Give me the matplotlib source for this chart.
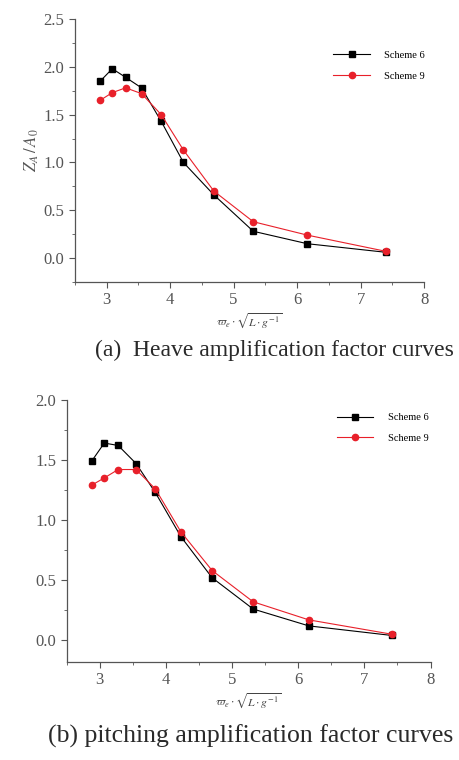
import matplotlib.pyplot as plt
from matplotlib.ticker import AutoMinorLocator

plt.rcParams['font.family'] = ['Liberation Serif', 'DejaVu Serif']
plt.rcParams['mathtext.fontset'] = 'stix'

# heave amplification factor
omega = [2.90, 3.09, 3.30, 3.55, 3.86, 4.21, 4.69, 5.31, 6.16, 7.40]
heave_s6 = [1.85, 1.98, 1.89, 1.78, 1.43, 1.00, 0.66, 0.28, 0.15, 0.06]
heave_s9 = [1.65, 1.73, 1.78, 1.72, 1.50, 1.13, 0.70, 0.38, 0.24, 0.07]

# pitching amplification factor
omega_p = [2.88, 3.07, 3.28, 3.55, 3.84, 4.23, 4.70, 5.32, 6.16, 7.42]
pitch_s6 = [1.49, 1.64, 1.62, 1.47, 1.23, 0.86, 0.52, 0.26, 0.12, 0.04]
pitch_s9 = [1.29, 1.35, 1.42, 1.42, 1.26, 0.90, 0.58, 0.32, 0.17, 0.05]

xlabel = r'$\varpi_e\cdot\sqrt{L\cdot g^{-1}}$'
red = '#e8202a'

fig = plt.figure(figsize=(4.59, 7.60), dpi=100)
ax1 = fig.add_axes([0.163, 0.629, 0.761, 0.346])
ax2 = fig.add_axes([0.145, 0.129, 0.793, 0.345])


def style(ax, ylim, yticks):
    ax.spines['top'].set_visible(False)
    ax.spines['right'].set_visible(False)
    for s in ('left', 'bottom'):
        ax.spines[s].set_color('#555555')
        ax.spines[s].set_linewidth(0.9)
    ax.set_xlim(2.5, 8)
    ax.set_ylim(*ylim)
    ax.set_xticks([3, 4, 5, 6, 7, 8])
    ax.set_yticks(yticks)
    ax.set_yticklabels(['%.1f' % v for v in yticks])
    ax.xaxis.set_minor_locator(AutoMinorLocator(2))
    ax.yaxis.set_minor_locator(AutoMinorLocator(2))
    ax.tick_params(which='major', length=4, width=0.8, color='#555555',
                   labelsize=12, labelcolor='#555555')
    ax.tick_params(which='minor', length=2, width=0.6, color='#555555')
    ax.set_xlabel(xlabel, fontsize=8.5, color='#444444', labelpad=2)


ax1.plot(omega, heave_s6, '-s', color='black', lw=0.8, ms=4.5, label='Scheme 6')
ax1.plot(omega, heave_s9, '-o', color=red, lw=0.8, ms=4.5, label='Scheme 9')
style(ax1, (-0.25, 2.5), [0.0, 0.5, 1.0, 1.5, 2.0, 2.5])
ax1.set_ylabel(r'$Z_A\,/\,A_0$', fontsize=12, color='#555555', labelpad=2)
ax1.legend(loc='upper right', bbox_to_anchor=(1.03, 0.915), frameon=False,
           fontsize=7.5, handlelength=3.5, labelspacing=1.1, handletextpad=1.4)

ax2.plot(omega_p, pitch_s6, '-s', color='black', lw=0.8, ms=4.5, label='Scheme 6')
ax2.plot(omega_p, pitch_s9, '-o', color=red, lw=0.8, ms=4.5, label='Scheme 9')
style(ax2, (-0.18, 2.0), [0.0, 0.5, 1.0, 1.5, 2.0])
ax2.legend(loc='upper right', bbox_to_anchor=(1.02, 0.985), frameon=False,
           fontsize=7.5, handlelength=3.5, labelspacing=1.1, handletextpad=1.4)

fig.text(0.597, 0.539, '(a)  Heave amplification factor curves', ha='center',
         va='center', fontsize=17, color='#2a2a2a')
fig.text(0.545, 0.031, '(b) pitching amplification factor curves', ha='center',
         va='center', fontsize=18.5, color='#2a2a2a')

fig.savefig('out.png', dpi=100)
